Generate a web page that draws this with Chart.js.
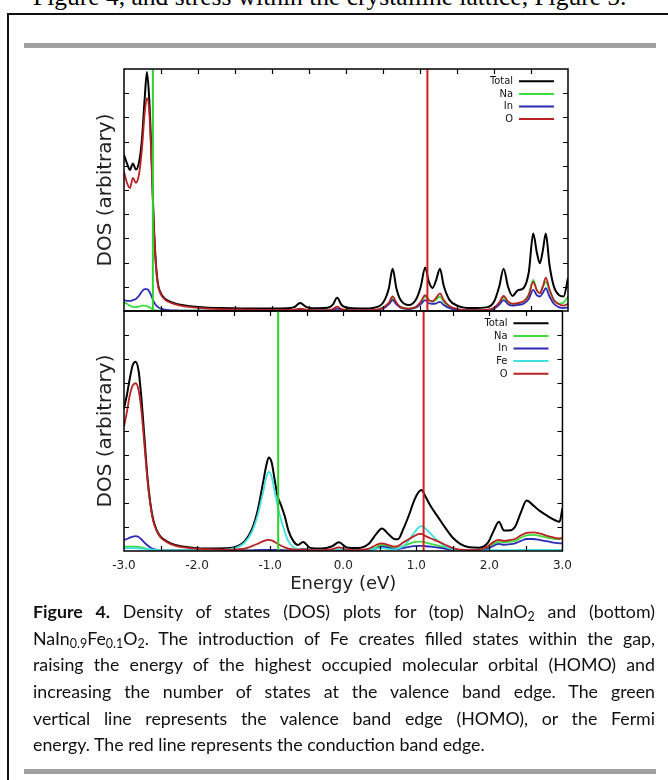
<!DOCTYPE html>
<html>
<head>
<meta charset="utf-8">
<script src="https://cdn.jsdelivr.net/npm/chart.js@4.4.0/dist/chart.umd.min.js"></script>
<style>
html,body{margin:0;padding:0;background:#fff;}
body{width:668px;height:780px;position:relative;overflow:hidden;}
.cut{position:absolute;left:33px;top:-16px;font-family:"Liberation Serif",serif;font-size:25.5px;line-height:26px;white-space:nowrap;color:#000;}
.frame{position:absolute;left:7px;top:13px;width:720px;height:820px;border-left:2px solid #111;border-top:2px solid #111;}
.bar{position:absolute;left:24px;width:632px;height:5px;background:#a0a0a0;}
.cv{position:absolute;}
.cap{position:absolute;left:33px;top:598px;width:622px;font-family:Lato,sans-serif;font-size:17.8px;color:#111;}
.cap div{height:26.7px;line-height:26.7px;text-align:justify;text-align-last:justify;}
.cap div.last{text-align-last:left;}
sub{font-size:70%;vertical-align:-0.25em;line-height:0;}
</style>
</head>
<body>
<div class="cut">Figure 4, and stress within the crystalline lattice, Figure 5.</div>
<div class="frame"></div>
<div class="bar" style="top:43px"></div>
<canvas id="ch-top" class="cv" width="520" height="260" style="left:60px;top:60px"></canvas>
<canvas id="ch-bot" class="cv" width="520" height="300" style="left:60px;top:305px"></canvas>
<div class="cap">
<div><b>Figure 4.</b> Density of states (DOS) plots for (top) NaInO<sub>2</sub> and (bottom)</div>
<div>NaIn<sub>0.9</sub>Fe<sub>0.1</sub>O<sub>2</sub>. The introduction of Fe creates filled states within the gap,</div>
<div>raising the energy of the highest occupied molecular orbital (HOMO) and</div>
<div>increasing the number of states at the valence band edge. The green</div>
<div>vertical line represents the valence band edge (HOMO), or the Fermi</div>
<div class="last">energy. The red line represents the conduction band edge.</div>
</div>
<div class="bar" style="top:769px"></div>

<script>
// energy grid (eV) and DOS values, top panel: NaInO2
const topE = [-3.00,-2.96,-2.92,-2.88,-2.84,-2.80,-2.76,-2.72,-2.69,-2.66,
  -2.63,-2.60,-2.57,-2.54,-2.50,-2.45,-2.40,-2.30,-2.20,-2.00,
  -1.70,-1.40,-1.00,-0.80,-0.70,-0.62,-0.54,-0.45,-0.25,-0.18,
  -0.12,-0.06,0.05,0.25,0.45,0.53,0.58,0.63,0.68,0.73,
  0.85,0.95,1.01,1.07,1.12,1.17,1.22,1.27,1.32,1.40,
  1.52,1.70,1.90,2.00,2.07,2.13,2.19,2.25,2.32,2.40,
  2.47,2.53,2.58,2.62,2.66,2.70,2.75,2.81,2.88,2.94,3.00];
const totalTop = [6.45,6.10,5.83,6.10,5.85,6.10,7.00,8.80,9.88,8.80,
  6.60,3.80,2.00,1.10,0.72,0.52,0.42,0.30,0.24,0.17,
  0.12,0.10,0.10,0.11,0.16,0.33,0.17,0.11,0.13,0.25,
  0.55,0.25,0.12,0.10,0.20,0.50,0.95,1.75,0.95,0.50,
  0.25,0.50,1.00,1.80,1.20,0.95,1.30,1.75,1.05,0.45,
  0.20,0.12,0.15,0.38,1.00,1.75,1.00,0.62,0.85,0.95,
  1.60,3.20,2.40,1.97,2.50,3.20,1.90,1.00,0.65,0.60,1.36];
const naTop = [0.35,0.30,0.22,0.17,0.16,0.18,0.22,0.22,0.20,0.16,
  0.10,0.05,0.03,0.02,0.01,0.01,0.01,0.01,0.01,0.01,
  0.01,0.01,0.01,0.01,0.02,0.05,0.02,0.01,0.02,0.05,
  0.10,0.05,0.02,0.02,0.08,0.20,0.32,0.50,0.32,0.18,
  0.10,0.18,0.35,0.60,0.45,0.40,0.48,0.60,0.38,0.17,
  0.06,0.03,0.04,0.12,0.33,0.55,0.36,0.28,0.32,0.40,
  0.70,1.28,0.85,0.75,1.00,1.20,0.85,0.45,0.30,0.35,0.60];
const inTop = [0.45,0.42,0.42,0.45,0.50,0.62,0.80,0.90,0.90,0.82,
  0.62,0.40,0.25,0.16,0.10,0.06,0.04,0.02,0.01,0.01,
  0.01,0.01,0.01,0.01,0.02,0.05,0.02,0.01,0.02,0.05,
  0.10,0.05,0.02,0.02,0.06,0.15,0.28,0.45,0.28,0.15,
  0.08,0.15,0.28,0.45,0.32,0.30,0.32,0.38,0.25,0.12,
  0.05,0.02,0.03,0.10,0.26,0.45,0.28,0.22,0.25,0.30,
  0.50,0.87,0.65,0.60,0.75,0.94,0.60,0.30,0.15,0.12,0.15];
const oTop = [5.74,5.30,5.08,5.50,5.30,5.60,6.60,8.20,8.80,8.30,
  6.30,3.70,1.95,1.05,0.68,0.48,0.38,0.27,0.20,0.13,
  0.08,0.06,0.05,0.05,0.06,0.10,0.06,0.04,0.04,0.08,
  0.18,0.08,0.03,0.03,0.08,0.20,0.35,0.60,0.35,0.18,
  0.10,0.18,0.38,0.66,0.45,0.40,0.55,0.73,0.45,0.20,
  0.08,0.04,0.05,0.13,0.35,0.62,0.40,0.30,0.33,0.40,
  0.65,1.20,0.85,0.73,1.00,1.38,0.90,0.45,0.28,0.22,0.30];

// bottom panel: NaIn0.9Fe0.1O2
const botE = [-3.00,-2.96,-2.92,-2.88,-2.84,-2.80,-2.76,-2.72,-2.68,-2.64,
  -2.60,-2.55,-2.50,-2.40,-2.30,-2.10,-1.80,-1.55,-1.45,-1.35,
  -1.25,-1.17,-1.10,-1.05,-1.02,-0.98,-0.94,-0.90,-0.85,-0.80,
  -0.75,-0.68,-0.62,-0.55,-0.45,-0.30,-0.15,-0.06,0.05,0.20,
  0.35,0.45,0.53,0.62,0.70,0.75,0.82,0.90,0.97,1.03,
  1.07,1.12,1.20,1.30,1.40,1.50,1.60,1.72,1.86,1.98,
  2.06,2.13,2.20,2.27,2.35,2.43,2.51,2.60,2.70,2.80,
  2.90,2.96,3.00];
const totalBot = [5.94,6.50,7.20,7.75,7.89,7.50,6.30,4.70,3.10,2.00,
  1.30,0.85,0.60,0.38,0.25,0.15,0.10,0.12,0.20,0.40,
  0.90,1.70,2.80,3.60,3.90,3.70,3.00,2.30,1.90,1.45,
  0.85,0.40,0.25,0.38,0.13,0.10,0.20,0.36,0.15,0.12,
  0.30,0.70,0.94,0.70,0.50,0.49,0.90,1.50,2.10,2.45,
  2.54,2.30,1.85,1.40,0.95,0.55,0.30,0.16,0.14,0.35,
  0.85,1.22,0.85,0.85,1.00,1.60,2.10,1.90,1.65,1.45,
  1.28,1.22,1.78];
const naBot = [0.18,0.18,0.18,0.18,0.18,0.17,0.15,0.12,0.08,0.05,
  0.03,0.02,0.02,0.02,0.02,0.02,0.02,0.02,0.02,0.03,
  0.03,0.04,0.05,0.05,0.05,0.05,0.05,0.04,0.04,0.03,
  0.03,0.02,0.02,0.03,0.02,0.02,0.03,0.05,0.02,0.02,
  0.06,0.15,0.25,0.20,0.12,0.12,0.20,0.30,0.37,0.39,
  0.39,0.36,0.30,0.22,0.14,0.07,0.03,0.02,0.03,0.15,
  0.30,0.38,0.36,0.38,0.42,0.55,0.65,0.67,0.62,0.55,
  0.50,0.50,0.54];
const inBot = [0.46,0.50,0.56,0.60,0.62,0.58,0.48,0.35,0.24,0.15,
  0.09,0.05,0.03,0.02,0.02,0.02,0.02,0.02,0.02,0.03,
  0.03,0.04,0.05,0.05,0.05,0.05,0.05,0.04,0.04,0.03,
  0.03,0.02,0.02,0.03,0.02,0.02,0.02,0.03,0.02,0.02,
  0.05,0.10,0.18,0.14,0.08,0.08,0.12,0.17,0.20,0.21,
  0.21,0.20,0.18,0.14,0.09,0.04,0.02,0.02,0.02,0.10,
  0.22,0.30,0.26,0.28,0.32,0.42,0.50,0.50,0.45,0.40,
  0.34,0.32,0.32];
const feBot = [0.12,0.12,0.12,0.12,0.12,0.11,0.10,0.09,0.08,0.07,
  0.06,0.05,0.04,0.03,0.03,0.02,0.03,0.08,0.15,0.35,
  0.80,1.50,2.40,3.10,3.30,3.10,2.50,1.90,1.29,0.80,
  0.40,0.15,0.08,0.10,0.05,0.03,0.05,0.08,0.04,0.03,
  0.06,0.10,0.12,0.08,0.07,0.10,0.20,0.45,0.75,0.98,
  1.04,0.95,0.70,0.40,0.18,0.07,0.03,0.03,0.03,0.03,
  0.04,0.04,0.04,0.04,0.04,0.05,0.05,0.05,0.05,0.05,
  0.05,0.05,0.05];
const oBot = [5.18,5.80,6.50,6.90,6.99,6.70,5.80,4.40,3.00,1.95,
  1.25,0.82,0.57,0.35,0.22,0.12,0.07,0.06,0.07,0.10,
  0.20,0.30,0.40,0.45,0.46,0.44,0.38,0.30,0.22,0.15,
  0.10,0.07,0.06,0.08,0.05,0.04,0.08,0.15,0.06,0.04,
  0.10,0.25,0.32,0.25,0.18,0.20,0.35,0.50,0.62,0.70,
  0.71,0.63,0.52,0.40,0.25,0.12,0.06,0.04,0.05,0.20,
  0.38,0.46,0.42,0.45,0.50,0.65,0.76,0.78,0.72,0.62,
  0.55,0.52,0.55];

// band edges: [valence (green), conduction (red)]
const edgeTop = [-2.61, 1.10];
const edgeBot = [-0.89, 1.10];
const xTickLabels = ['-3.0','-2.0','-1.0','0.0','1.0','2.0','3.0'];

const C = { total:'#000000', na:'#3ddc3d', in:'#2b2bb5', fe:'#3fe0e0', o:'#b82222', vbm:'#2ed12e', cbm:'#d01e1e' };
const FONT = 'DejaVu Sans';

const pts = (xs, ys) => xs.map((x, i) => ({ x, y: ys[i] }));
const line = (label, xs, ys, color, order) => ({
  label, data: pts(xs, ys), borderColor: color, borderWidth: label === 'Total' ? 2 : 1.8, pointRadius: 0,
  cubicInterpolationMode: 'monotone', fill: false, order
});
const edge = (x, color) => ({
  label: '', isEdge: true, data: [{ x, y: 0 }, { x, y: 10 }],
  borderColor: color, borderWidth: 2, pointRadius: 0, order: -1
});

// frame with inward ticks + gnuplot-style key
const framePlugin = {
  id: 'frame',
  afterDatasetsDraw(chart) {
    const { ctx, chartArea: a, scales: { x, y } } = chart;
    ctx.save();
    ctx.strokeStyle = '#000';
    ctx.lineWidth = 1.5;
    ctx.strokeRect(a.left, a.top, a.right - a.left, a.bottom - a.top);
    ctx.lineWidth = 1.2;
    ctx.beginPath();
    x.ticks.forEach(t => {
      if (t.value <= -3 || t.value >= 3) return;
      const px = Math.round(x.getPixelForValue(t.value)) + 0.5;
      ctx.moveTo(px, a.bottom); ctx.lineTo(px, a.bottom - 5);
      ctx.moveTo(px, a.top); ctx.lineTo(px, a.top + 5);
    });
    y.ticks.forEach(t => {
      if (t.value <= 0 || t.value >= 10) return;
      const py = Math.round(y.getPixelForValue(t.value)) + 0.5;
      ctx.moveTo(a.left, py); ctx.lineTo(a.left + 5, py);
      ctx.moveTo(a.right, py); ctx.lineTo(a.right - 5, py);
    });
    ctx.stroke();
    ctx.restore();
  },
  afterDraw(chart) {
    const { ctx, chartArea: a } = chart;
    const items = chart.data.datasets.filter(d => !d.isEdge);
    ctx.save();
    ctx.font = '11px "DejaVu Sans Condensed", "DejaVu Sans"';
    ctx.textAlign = 'right';
    ctx.textBaseline = 'middle';
    items.forEach((d, i) => {
      const yy = a.top + 12.3 + i * 12.6;
      ctx.fillStyle = '#111';
      ctx.fillText(d.label, a.right - 55, yy);
      ctx.strokeStyle = d.borderColor;
      ctx.lineWidth = 2;
      ctx.beginPath();
      ctx.moveTo(a.right - 49, yy); ctx.lineTo(a.right - 14, yy);
      ctx.stroke();
    });
    ctx.restore();
  }
};

const yAxis = () => ({
  min: 0, max: 10,
  ticks: { display: false, stepSize: 1 },
  grid: { display: false, drawTicks: false },
  border: { display: false },
  title: { display: true, text: 'DOS (arbitrary)', color: '#222',
    font: { family: FONT, size: 20 }, padding: { top: 34, bottom: 0 } },
  afterFit: s => { s.width = 64; }
});

new Chart(document.getElementById('ch-top'), {
  type: 'line',
  data: { datasets: [
    edge(edgeTop[0], C.vbm), edge(edgeTop[1], C.cbm),
    line('Total', topE, totalTop, C.total, 3),
    line('Na', topE, naTop, C.na, 2),
    line('In', topE, inTop, C.in, 1),
    line('O', topE, oTop, C.o, 0)
  ] },
  options: {
    responsive: false, animation: false,
    layout: { padding: { top: 9, right: 12, bottom: 9, left: 0 } },
    plugins: { legend: { display: false }, tooltip: { enabled: false } },
    scales: {
      x: { type: 'linear', min: -3, max: 3, display: false, ticks: { stepSize: 0.5 } },
      y: yAxis()
    }
  },
  plugins: [framePlugin]
});

new Chart(document.getElementById('ch-bot'), {
  type: 'line',
  data: { datasets: [
    edge(edgeBot[0], C.vbm), edge(edgeBot[1], C.cbm),
    line('Total', botE, totalBot, C.total, 4),
    line('Na', botE, naBot, C.na, 3),
    line('In', botE, inBot, C.in, 2),
    line('Fe', botE, feBot, C.fe, 1),
    line('O', botE, oBot, C.o, 0)
  ] },
  options: {
    responsive: false, animation: false,
    layout: { padding: { top: 6, right: 12, bottom: 0, left: 0 } },
    plugins: { legend: { display: false }, tooltip: { enabled: false } },
    scales: {
      x: {
        type: 'linear', min: -3, max: 3,
        ticks: { stepSize: 0.5, autoSkip: false, maxRotation: 0, padding: 8, color: '#222',
          font: { family: FONT, size: 12 },
          callback: v => Number.isInteger(v) ? xTickLabels[v + 3] : '' },
        grid: { display: false, drawTicks: false },
        border: { display: false },
        title: { display: true, text: 'Energy (eV)', color: '#222',
          font: { family: FONT, size: 18 }, padding: { top: 0, bottom: 10 } },
        afterFit: s => { s.height = 54; }
      },
      y: yAxis()
    }
  },
  plugins: [framePlugin]
});
</script>
</body>
</html>
